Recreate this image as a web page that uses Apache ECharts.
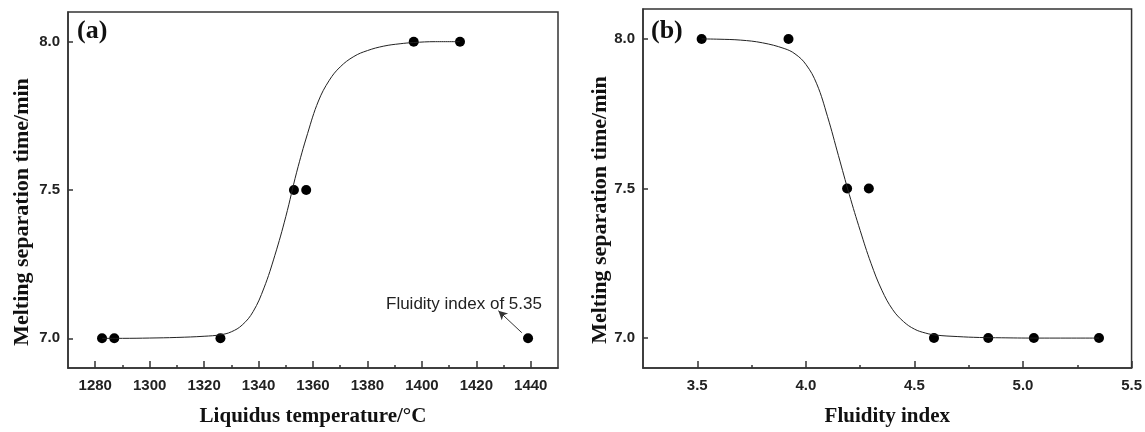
<!DOCTYPE html>
<html>
<head>
    <meta charset="utf-8" />
    <title></title>
    <style>
        html, body { margin: 0; padding: 0; background: #fff; }
    </style>
</head>
<body>
<div id="main" style="width:1145px;height:432px"></div>
</body>
<script src="https://cdn.jsdelivr.net/npm/echarts@6/dist/echarts.min.js"></script>
<script type="text/javascript">
    // measured points
    var tempX = [1282.5, 1287, 1326, 1353, 1357.5, 1397, 1414, 1439];
    var timeA = [7.0, 7.0, 7.0, 7.5, 7.5, 8.0, 8.0, 7.0];
    var fluidX = [3.52, 3.92, 4.19, 4.29, 4.59, 4.84, 5.05, 5.35];
    var timeB = [8.0, 8.0, 7.5, 7.5, 7.0, 7.0, 7.0, 7.0];

    // fitted curves
    var fitAX = [1282.5, 1290, 1300, 1310, 1320, 1326, 1330, 1334, 1338, 1342, 1346, 1350, 1354, 1358, 1362, 1366, 1370, 1375, 1380, 1386, 1392, 1397, 1405, 1414];
    var fitAY = [7.0, 7.0, 7.001, 7.003, 7.007, 7.012, 7.022, 7.045, 7.09, 7.17, 7.28, 7.41, 7.56, 7.69, 7.80, 7.87, 7.915, 7.95, 7.97, 7.985, 7.993, 7.997, 8.0, 8.0];
    var fitBX = [3.52, 3.6, 3.7, 3.8, 3.9, 3.95, 4.0, 4.05, 4.1, 4.15, 4.2, 4.25, 4.3, 4.35, 4.4, 4.45, 4.5, 4.55, 4.6, 4.7, 4.8, 4.9, 5.05, 5.35];
    var fitBY = [8.0, 7.999, 7.996, 7.987, 7.968, 7.95, 7.915, 7.85, 7.74, 7.61, 7.48, 7.36, 7.25, 7.16, 7.095, 7.055, 7.03, 7.017, 7.01, 7.005, 7.002, 7.001, 7.0, 7.0];

    var tempTicks = [1280, 1300, 1320, 1340, 1360, 1380, 1400, 1420, 1440];
    var tempMinor = [1290, 1310, 1330, 1350, 1370, 1390, 1410, 1430];
    var fluidTicks = [3.5, 4.0, 4.5, 5.0, 5.5];
    var fluidMinor = [3.75, 4.25, 4.75, 5.25];
    var timeTicks = [7.0, 7.5, 8.0];

    function zip(xs, ys) {
        return xs.map(function (x, i) { return [x, ys[i]]; });
    }

    var axisColor = '#333';
    var labelFont = { fontFamily: 'Liberation Sans', fontWeight: 'bold', fontSize: 15, color: '#222' };
    var nameFont = { fontFamily: 'Liberation Serif', fontWeight: 'bold', fontSize: 21, color: '#111' };
    var yTitle = 'Melting separation time/min';

    function xAxisMain(grid, min, max, ticks, name, fmt) {
        return {
            type: 'value', gridIndex: grid, position: 'bottom', min: min, max: max,
            name: name, nameLocation: 'middle', nameGap: 38, nameTextStyle: nameFont,
            splitLine: { show: false },
            axisLine: { show: true, lineStyle: { color: axisColor, width: 1.5 } },
            axisTick: { show: true, inside: true, length: 7, customValues: ticks, lineStyle: { color: axisColor, width: 1.5 } },
            axisLabel: Object.assign({ customValues: ticks, margin: 10, formatter: fmt }, labelFont)
        };
    }

    // second axis in the same grid, only for the short ticks
    function xAxisMinor(grid, min, max, ticks) {
        return {
            type: 'value', gridIndex: grid, position: 'bottom', min: min, max: max,
            splitLine: { show: false },
            axisLine: { show: false, onZero: false },
            axisTick: { show: true, inside: true, length: 3, customValues: ticks, lineStyle: { color: axisColor, width: 1.5 } },
            axisLabel: { show: false, customValues: ticks }
        };
    }

    function yAxis(grid) {
        return {
            type: 'value', gridIndex: grid, min: 6.9, max: 8.1,
            splitLine: { show: false },
            axisLine: { show: true, lineStyle: { color: axisColor, width: 1.5 } },
            axisTick: { show: true, inside: true, length: 5, customValues: timeTicks, lineStyle: { color: axisColor, width: 1.5 } },
            axisLabel: Object.assign({
                customValues: timeTicks, margin: 8,
                formatter: function (v) { return v.toFixed(1); }
            }, labelFont)
        };
    }

    function yName(x, y) {
        return {
            type: 'text', x: x, y: y, rotation: Math.PI / 2,
            style: { text: yTitle, font: 'bold 22px "Liberation Serif"', fill: '#111', align: 'center', verticalAlign: 'middle' }
        };
    }

    var myChart = echarts.init(document.getElementById('main'));
    var option = {
        backgroundColor: '#fff',
        animation: false,
        grid: [
            { left: 68, top: 12, width: 490, height: 362, show: true, borderColor: axisColor, borderWidth: 1.5, backgroundColor: 'transparent' },
            { left: 643, top: 9, width: 490, height: 364, show: true, borderColor: axisColor, borderWidth: 1.5, backgroundColor: 'transparent' }
        ],
        xAxis: [
            xAxisMain(0, 1270, 1450, tempTicks, 'Liquidus temperature/\u00b0C', function (v) { return String(v); }),
            xAxisMinor(0, 1270, 1450, tempMinor),
            xAxisMain(1, 3.25, 5.5, fluidTicks, 'Fluidity index', function (v) { return v.toFixed(1); }),
            xAxisMinor(1, 3.25, 5.5, fluidMinor)
        ],
        yAxis: [yAxis(0), yAxis(1)],
        graphic: [
            yName(22, 212),
            yName(600, 210),
            { type: 'text', left: 77, top: 18, style: { text: '(a)', font: 'bold 26px "Liberation Serif"', fill: '#111' } },
            { type: 'text', left: 651, top: 18, style: { text: '(b)', font: 'bold 26px "Liberation Serif"', fill: '#111' } },
            { type: 'text', left: 386, top: 296, style: { text: 'Fluidity index of 5.35', font: '17px "Liberation Sans"', fill: '#222' } }
        ],
        series: [
            {
                type: 'line', xAxisIndex: 0, yAxisIndex: 0, data: zip(fitAX, fitAY),
                smooth: 0.4, showSymbol: false, silent: true,
                lineStyle: { color: '#222', width: 1 },
                markLine: {
                    silent: true, symbol: ['none', 'arrow'], symbolSize: [7, 9],
                    lineStyle: { color: '#333', width: 1, type: 'solid' },
                    label: { show: false },
                    data: [[{ coord: [1436.7, 7.019] }, { coord: [1428.1, 7.093] }]]
                }
            },
            {
                type: 'scatter', xAxisIndex: 0, yAxisIndex: 0, data: zip(tempX, timeA),
                symbol: 'circle', symbolSize: 10, itemStyle: { color: '#000', opacity: 1 }
            },
            {
                type: 'line', xAxisIndex: 2, yAxisIndex: 1, data: zip(fitBX, fitBY),
                smooth: 0.4, showSymbol: false, silent: true,
                lineStyle: { color: '#222', width: 1 }
            },
            {
                type: 'scatter', xAxisIndex: 2, yAxisIndex: 1, data: zip(fluidX, timeB),
                symbol: 'circle', symbolSize: 10, itemStyle: { color: '#000', opacity: 1 }
            }
        ]
    };
    myChart.setOption(option);
</script>
</html>
